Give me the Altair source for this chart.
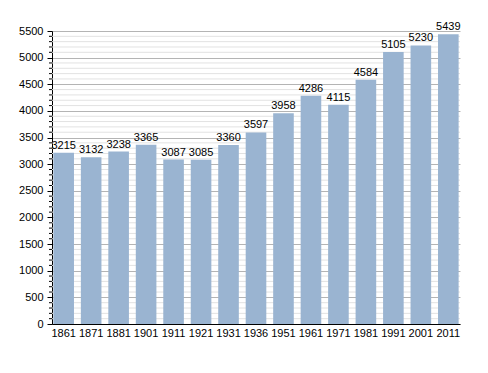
import altair as alt
import pandas as pd

years = ["1861", "1871", "1881", "1901", "1911", "1921", "1931", "1936",
         "1951", "1961", "1971", "1981", "1991", "2001", "2011"]
pop = [3215, 3132, 3238, 3365, 3087, 3085, 3360, 3597,
       3958, 4286, 4115, 4584, 5105, 5230, 5439]
minor_vals = [v for v in range(100, 5500, 100) if v % 500 != 0]
major_vals = list(range(0, 5501, 500))

df = pd.DataFrame({"year": years, "pop": pop})
dminor = pd.DataFrame({"v": minor_vals})

FONT = "Liberation Sans"

yscale = alt.Scale(domain=[0, 5500], nice=False)
yaxis = alt.Axis(title=None, values=major_vals, format="d", grid=True,
                 gridColor="#b4b4b4", tickSize=5, tickColor="black",
                 domainColor="black", labelFont=FONT, labelFontSize=11,
                 labelColor="black", labelPadding=4)
xenc = alt.X("year:N", sort=None, scale=alt.Scale(paddingInner=0.25, paddingOuter=0.05),
             axis=alt.Axis(title=None, labelAngle=0, ticks=False, domainColor="black",
                           labelFont=FONT, labelFontSize=11, labelColor="black",
                           labelPadding=3))

grid_minor = alt.Chart(dminor).mark_rule(color="#e2e2e2", strokeWidth=1).encode(
    y=alt.Y("v:Q", scale=yscale, axis=yaxis),
    x=alt.value(0), x2=alt.value(408))

tick_minor = alt.Chart(dminor).mark_rule(color="black", strokeWidth=1).encode(
    y=alt.Y("v:Q", scale=yscale, axis=yaxis),
    x=alt.value(-3), x2=alt.value(0))

bars = alt.Chart(df).mark_bar(color="#9ab4d1").encode(
    x=xenc, y=alt.Y("pop:Q", scale=yscale, axis=yaxis))

text = alt.Chart(df).mark_text(dy=-7, font=FONT, fontSize=11, color="black").encode(
    x=xenc, y=alt.Y("pop:Q", scale=yscale, axis=yaxis), text="pop:Q")

chart = alt.layer(grid_minor, bars, tick_minor, text).properties(
    width=408, height=293,
    padding={"left": 10, "top": 13, "right": 5, "bottom": 5},
).configure_view(stroke=None).configure_axis(domainWidth=1)

chart.save("out.html", embed_options={"renderer": "svg", "actions": False})
